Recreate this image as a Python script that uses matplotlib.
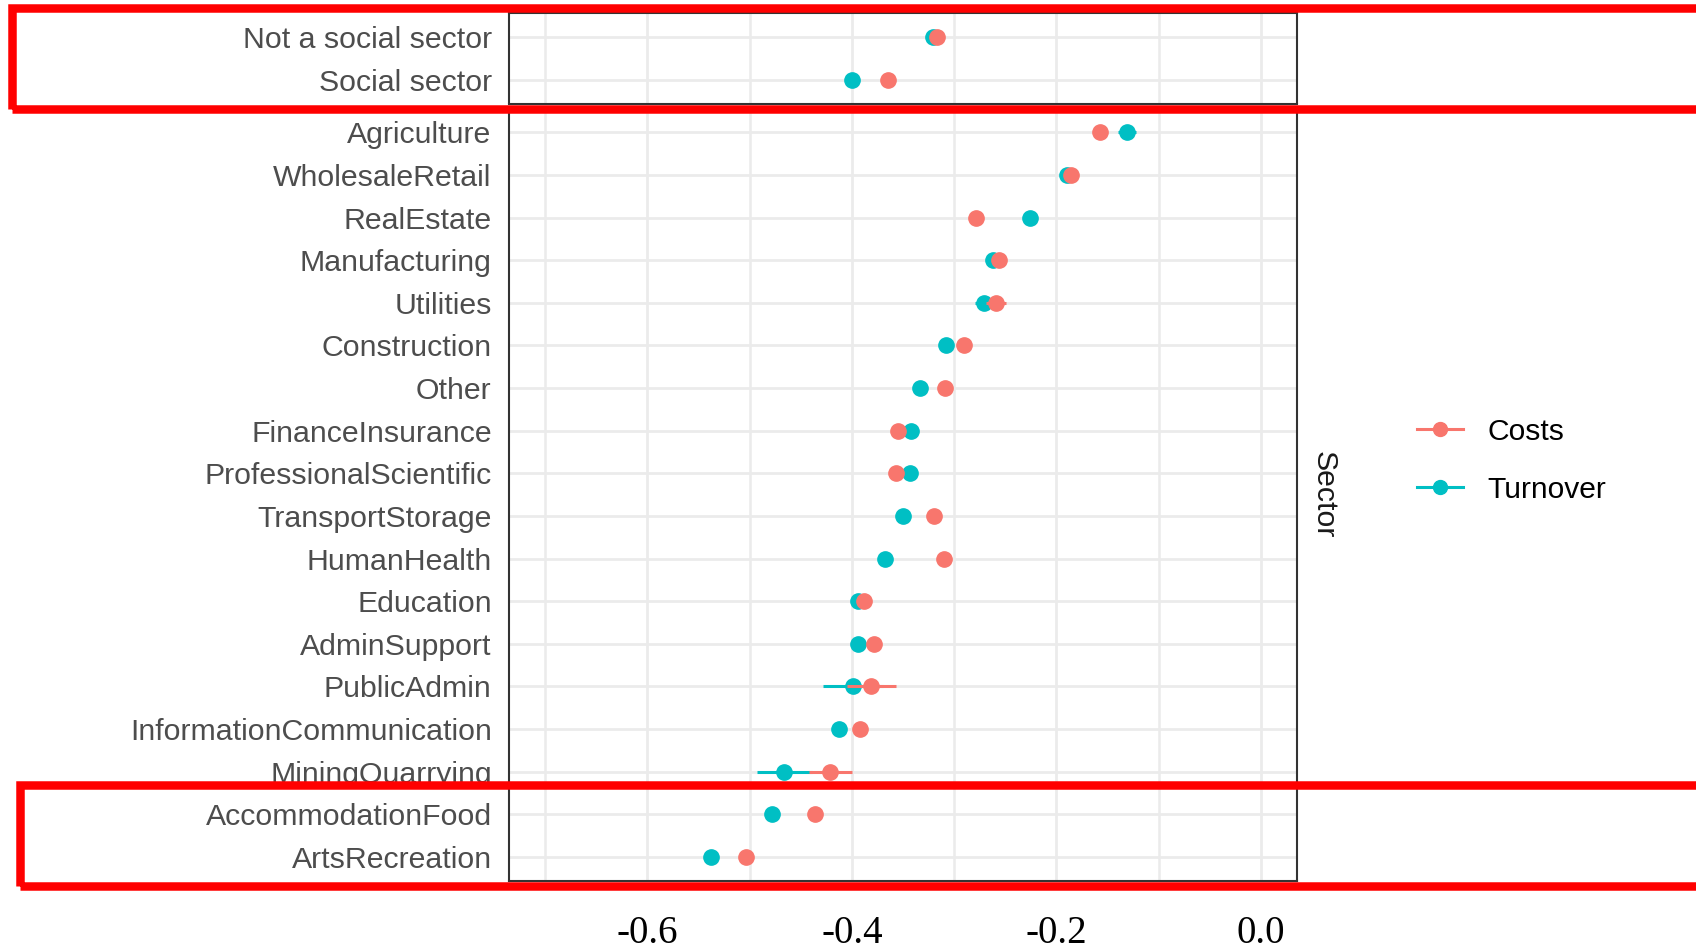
import matplotlib
matplotlib.use("Agg")
import matplotlib.pyplot as plt
from matplotlib.lines import Line2D
from matplotlib.patches import Rectangle

# ---------------- data ----------------
top_sectors = ["Not a social sector", "Social sector"]
top_costs = [-0.317, -0.365]
top_turnover = [-0.321, -0.400]
top_costs_err = [0.004, 0.004]
top_turnover_err = [0.004, 0.004]

sectors = ["Agriculture", "WholesaleRetail", "RealEstate", "Manufacturing",
           "Utilities", "Construction", "Other", "FinanceInsurance",
           "ProfessionalScientific", "TransportStorage", "HumanHealth",
           "Education", "AdminSupport", "PublicAdmin",
           "InformationCommunication", "MiningQuarrying",
           "AccommodationFood", "ArtsRecreation"]
costs = [-0.157, -0.186, -0.279, -0.256, -0.259, -0.290, -0.309, -0.355,
         -0.357, -0.320, -0.310, -0.388, -0.378, -0.381, -0.392, -0.421,
         -0.436, -0.504]
turnover = [-0.131, -0.190, -0.226, -0.262, -0.271, -0.308, -0.333, -0.342,
            -0.343, -0.350, -0.368, -0.394, -0.394, -0.399, -0.413, -0.466,
            -0.478, -0.538]
costs_err = [0.005, 0.005, 0.004, 0.006, 0.010, 0.005, 0.004, 0.004,
             0.004, 0.004, 0.004, 0.005, 0.004, 0.024, 0.004, 0.021,
             0.004, 0.004]
turnover_err = [0.009, 0.005, 0.004, 0.006, 0.009, 0.005, 0.004, 0.004,
                0.004, 0.004, 0.004, 0.005, 0.004, 0.029, 0.004, 0.027,
                0.004, 0.004]

xticks = [-0.6, -0.4, -0.2, 0.0]
xtick_labels = ["-0.6", "-0.4", "-0.2", "0.0"]
xminor = [-0.7, -0.5, -0.3, -0.1]
series_names = ["Costs", "Turnover"]
strip_label = "Sector"

RED = "#F8766D"
TEAL = "#00BFC4"
SANS = ["Liberation Sans", "DejaVu Sans"]

# ---------------- figure ----------------
W, H = 1696, 950
fig = plt.figure(figsize=(W / 100, H / 100), dpi=100)
fig.patch.set_facecolor("white")

def fx(px):
    return px / W

def fy(py):
    return 1 - py / H

left_px, right_px = 509.3, 1296.7
top_panel = (12.7, 103.5)
bot_panel = (108.5, 880.7)

ax_top = fig.add_axes([fx(left_px), fy(top_panel[1]), fx(right_px - left_px),
                       (top_panel[1] - top_panel[0]) / H])
ax_bot = fig.add_axes([fx(left_px), fy(bot_panel[1]), fx(right_px - left_px),
                       (bot_panel[1] - bot_panel[0]) / H], sharex=ax_top)

EXP = 0.56

def draw(ax, labels, c, t, ce, te):
    y = list(range(len(labels)))
    ax.errorbar(t, y, xerr=te, fmt="o", color=TEAL, ms=11, elinewidth=2.2,
                capsize=0, zorder=3)
    ax.errorbar(c, y, xerr=ce, fmt="o", color=RED, ms=11, elinewidth=2.2,
                capsize=0, zorder=4)
    ax.set_ylim(len(labels) - 1 + EXP, -EXP)
    ax.set_yticks(y)
    ax.set_yticklabels(labels, fontsize=21.8, color="#4D4D4D", family=SANS)
    ax.set_xlim(-0.735, 0.035)
    ax.set_xticks(xticks)
    ax.set_xticks(xminor, minor=True)
    ax.grid(which="major", axis="both", color="#EBEBEB", lw=2.0)
    ax.grid(which="minor", axis="x", color="#EBEBEB", lw=1.8)
    ax.set_axisbelow(True)
    for s in ax.spines.values():
        s.set_color("#333333")
        s.set_linewidth(1.5)
    ax.tick_params(axis="both", which="both", length=0)
    ax.tick_params(axis="y", pad=12.7)

draw(ax_top, top_sectors, top_costs, top_turnover, top_costs_err, top_turnover_err)
draw(ax_bot, sectors, costs, turnover, costs_err, turnover_err)

ax_top.tick_params(axis="x", labelbottom=False)
ax_bot.set_xticklabels(xtick_labels, fontsize=28, color="black",
                       family=["Liberation Serif", "DejaVu Serif"])
ax_bot.tick_params(axis="x", pad=25)

# strip label
fig.text(fx(1324), fy((bot_panel[0] + bot_panel[1]) / 2), strip_label,
         rotation=-90, ha="center", va="center", fontsize=21.8, color="#1A1A1A",
         family=SANS)

# legend
handles = [Line2D([], [], color=RED, marker="o", ms=10, lw=2.2),
           Line2D([], [], color=TEAL, marker="o", ms=10, lw=2.2)]
fig.legend(handles, series_names, loc="center left",
           bbox_to_anchor=(fx(1416.7), fy(460.5)), frameon=False,
           borderpad=0, borderaxespad=0, handlelength=1.55, handletextpad=0.82,
           labelspacing=1.0,
           prop={"family": SANS, "size": 21.6})

# red annotation rectangles
lw_px = 8.5
for (l, t, b) in [(11.7, 8.3, 109.0), (19.8, 785.0, 885.5)]:
    rect = Rectangle((fx(l), fy(b)), fx(1720 - l), (b - t) / H,
                     transform=fig.transFigure, fill=False, edgecolor="#FF0000",
                     linewidth=lw_px * 72 / 100, clip_on=False, zorder=10)
    fig.add_artist(rect)

fig.savefig("out.png", dpi=100)
